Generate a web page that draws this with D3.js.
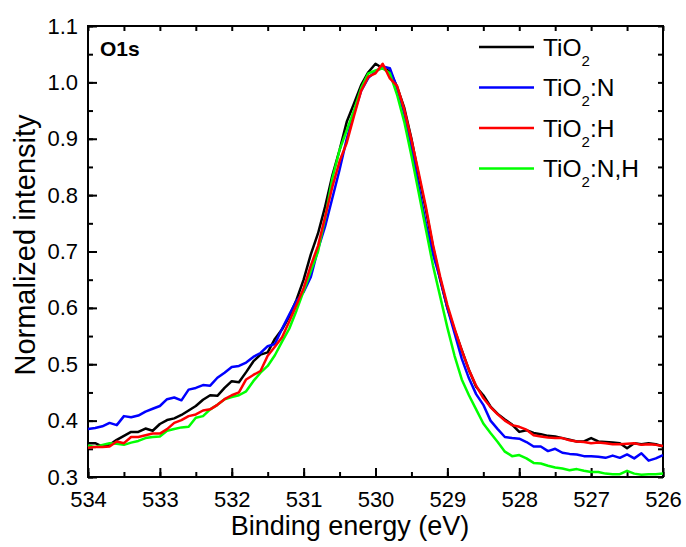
<!DOCTYPE html>
<html>
<head>
<meta charset="utf-8">
<script src="https://cdn.jsdelivr.net/npm/d3@7"></script>
<style>
  body { margin: 0; background: #fff; }
  text { font-family: "Liberation Sans", Arial, sans-serif; }
</style>
</head>
<body>
<script>
// Binding energies (eV), 0.1 eV steps
const energy = [534.0, 533.9, 533.8, 533.7, 533.6, 533.5, 533.4, 533.3, 533.2, 533.1,
  533.0, 532.9, 532.8, 532.7, 532.6, 532.5, 532.4, 532.3, 532.2, 532.1,
  532.0, 531.9, 531.8, 531.7, 531.6, 531.5, 531.4, 531.3, 531.2, 531.1,
  531.0, 530.9, 530.8, 530.7, 530.6, 530.5, 530.4, 530.3, 530.2, 530.1,
  530.0, 529.9, 529.8, 529.7, 529.6, 529.5, 529.4, 529.3, 529.2, 529.1,
  529.0, 528.9, 528.8, 528.7, 528.6, 528.5, 528.4, 528.3, 528.2, 528.1,
  528.0, 527.9, 527.8, 527.7, 527.6, 527.5, 527.4, 527.3, 527.2, 527.1,
  527.0, 526.9, 526.8, 526.7, 526.6, 526.5, 526.4, 526.3, 526.2, 526.1, 526.0];

const tio2 = [0.360, 0.360, 0.354, 0.357, 0.366, 0.373, 0.380, 0.380, 0.386, 0.382,
  0.394, 0.401, 0.404, 0.410, 0.418, 0.426, 0.437, 0.445, 0.444, 0.458,
  0.470, 0.468, 0.486, 0.505, 0.517, 0.521, 0.545, 0.562, 0.585, 0.614,
  0.650, 0.695, 0.732, 0.780, 0.835, 0.880, 0.930, 0.962, 0.995, 1.018,
  1.033, 1.025, 1.020, 0.992, 0.955, 0.900, 0.835, 0.775, 0.708, 0.650,
  0.600, 0.561, 0.525, 0.490, 0.460, 0.445, 0.425, 0.412, 0.402, 0.393,
  0.380, 0.383, 0.378, 0.376, 0.373, 0.372, 0.369, 0.366, 0.363, 0.363,
  0.369, 0.363, 0.362, 0.361, 0.360, 0.351, 0.360, 0.358, 0.360, 0.358, 0.354];

const tio2N = [0.385, 0.387, 0.390, 0.396, 0.392, 0.408, 0.406, 0.409, 0.416, 0.421,
  0.426, 0.438, 0.441, 0.436, 0.455, 0.458, 0.463, 0.462, 0.476, 0.485,
  0.495, 0.497, 0.503, 0.513, 0.520, 0.532, 0.536, 0.563, 0.588, 0.612,
  0.628, 0.655, 0.704, 0.745, 0.795, 0.845, 0.900, 0.945, 0.985, 1.008,
  1.019, 1.028, 1.025, 0.990, 0.945, 0.885, 0.815, 0.750, 0.695, 0.652,
  0.600, 0.555, 0.510, 0.475, 0.447, 0.428, 0.400, 0.385, 0.371, 0.369,
  0.368, 0.362, 0.354, 0.354, 0.346, 0.350, 0.343, 0.341, 0.340, 0.337,
  0.337, 0.336, 0.334, 0.338, 0.334, 0.340, 0.333, 0.342, 0.329, 0.333, 0.339];

const tio2H = [0.352, 0.353, 0.353, 0.354, 0.363, 0.360, 0.371, 0.371, 0.374, 0.377,
  0.377, 0.385, 0.396, 0.401, 0.408, 0.411, 0.418, 0.420, 0.428, 0.438,
  0.445, 0.450, 0.473, 0.481, 0.488, 0.515, 0.531, 0.548, 0.576, 0.605,
  0.635, 0.675, 0.710, 0.762, 0.815, 0.860, 0.893, 0.940, 0.985, 1.010,
  1.016, 1.033, 1.007, 0.994, 0.952, 0.898, 0.840, 0.780, 0.712, 0.655,
  0.605, 0.563, 0.525, 0.490, 0.462, 0.440, 0.424, 0.411, 0.400, 0.392,
  0.389, 0.384, 0.374, 0.372, 0.370, 0.369, 0.369, 0.365, 0.363, 0.362,
  0.360, 0.361, 0.360, 0.358, 0.358, 0.359, 0.360, 0.357, 0.358, 0.357, 0.355];

const tio2NH = [0.356, 0.353, 0.357, 0.360, 0.359, 0.357, 0.361, 0.364, 0.369, 0.371,
  0.372, 0.382, 0.385, 0.388, 0.389, 0.405, 0.408, 0.420, 0.428, 0.438,
  0.442, 0.445, 0.452, 0.470, 0.485, 0.497, 0.516, 0.540, 0.563, 0.595,
  0.630, 0.665, 0.700, 0.760, 0.830, 0.880, 0.915, 0.950, 0.990, 1.016,
  1.021, 1.025, 1.016, 0.978, 0.930, 0.870, 0.805, 0.740, 0.675, 0.620,
  0.565, 0.515, 0.473, 0.445, 0.420, 0.395, 0.378, 0.362, 0.345, 0.337,
  0.339, 0.333, 0.325, 0.324, 0.320, 0.317, 0.315, 0.312, 0.314, 0.311,
  0.309, 0.309, 0.306, 0.305, 0.305, 0.311, 0.306, 0.304, 0.305, 0.305, 0.306];

const seriesNames = ["TiO2", "TiO2:N", "TiO2:H", "TiO2:N,H"];
const seriesColors = ["#000000", "#0000ff", "#ff0000", "#00ff00"];
const xTicks = [534, 533, 532, 531, 530, 529, 528, 527, 526];
const yTicks = [0.3, 0.4, 0.5, 0.6, 0.7, 0.8, 0.9, 1.0, 1.1];

const margin = { top: 26, bottom: 70, left: 88, right: 23 };
const width = 686 - margin.left - margin.right;
const height = 547 - margin.top - margin.bottom;

const svg = d3.select("body")
  .append("svg")
  .attr("width", 686)
  .attr("height", 547);

const g = svg.append("g").attr("transform", `translate(${margin.left},${margin.top})`);

// reversed energy axis
const xscale = d3.scaleLinear().domain([534, 526]).range([0, width]);
const yscale = d3.scaleLinear().domain([0.3, 1.1]).range([height, 0]);

const xMinor = d3.range(534, 525.9, -0.5);
const yMinor = d3.range(0.3, 1.101, 0.05);

function styleAxis(sel) {
  sel.select(".domain").remove();
  sel.selectAll("line").attr("stroke", "#000").attr("stroke-width", 2);
  sel.selectAll("text").attr("font-size", 22).attr("fill", "#000");
}

// minor ticks, all four sides
g.append("g").attr("transform", `translate(0,${height})`)
  .call(d3.axisBottom(xscale).tickValues(xMinor).tickSize(-5).tickFormat(""))
  .call(styleAxis);
g.append("g")
  .call(d3.axisTop(xscale).tickValues(xMinor).tickSize(-5).tickFormat(""))
  .call(styleAxis);
g.append("g")
  .call(d3.axisLeft(yscale).tickValues(yMinor).tickSize(-5).tickFormat(""))
  .call(styleAxis);
g.append("g").attr("transform", `translate(${width},0)`)
  .call(d3.axisRight(yscale).tickValues(yMinor).tickSize(-5).tickFormat(""))
  .call(styleAxis);

// major ticks with labels
g.append("g").attr("transform", `translate(0,${height})`)
  .call(d3.axisBottom(xscale).tickValues(xTicks).tickSize(-9).tickPadding(14).tickFormat(d3.format("d")))
  .call(styleAxis);
g.append("g")
  .call(d3.axisLeft(yscale).tickValues(yTicks).tickSize(-9).tickPadding(10).tickFormat(d3.format(".1f")))
  .call(styleAxis);

// frame
g.append("rect")
  .attr("width", width)
  .attr("height", height)
  .attr("fill", "none")
  .attr("stroke", "#000")
  .attr("stroke-width", 2);

const allSeries = [tio2, tio2N, tio2NH, tio2H];
const drawColors = [seriesColors[0], seriesColors[1], seriesColors[3], seriesColors[2]];

const line = d3.line()
  .x((d, i) => xscale(energy[i]))
  .y(d => yscale(d));

allSeries.forEach((s, k) => {
  g.append("path")
    .attr("d", line(s))
    .attr("fill", "none")
    .attr("stroke", drawColors[k])
    .attr("stroke-width", 2.5)
    .attr("stroke-linejoin", "round");
});

// panel label
g.append("text")
  .attr("x", 12)
  .attr("y", 30)
  .attr("font-size", 21)
  .attr("font-weight", "bold")
  .text("O1s");

// legend
const legend = svg.append("g").attr("transform", "translate(479,47)");
seriesNames.forEach((name, i) => {
  const row = legend.append("g").attr("transform", `translate(0,${i * 40.5})`);
  row.append("line")
    .attr("x1", 0).attr("x2", 55)
    .attr("stroke", seriesColors[i])
    .attr("stroke-width", 2.5);
  const t = row.append("text")
    .attr("x", 64)
    .attr("y", 8.5)
    .attr("font-size", 24.5);
  t.append("tspan").text("TiO");
  t.append("tspan").attr("font-size", 15).attr("dy", 10).text("2");
  const rest = name.slice(4);
  if (rest) t.append("tspan").attr("dy", -10).text(rest);
});

// axis titles
svg.append("text")
  .attr("x", 350)
  .attr("y", 535)
  .attr("text-anchor", "middle")
  .attr("font-size", 27)
  .text("Binding energy (eV)");

svg.append("text")
  .attr("transform", "translate(35,245) rotate(-90)")
  .attr("text-anchor", "middle")
  .attr("font-size", 29)
  .text("Normalized intensity");
</script>
</body>
</html>
